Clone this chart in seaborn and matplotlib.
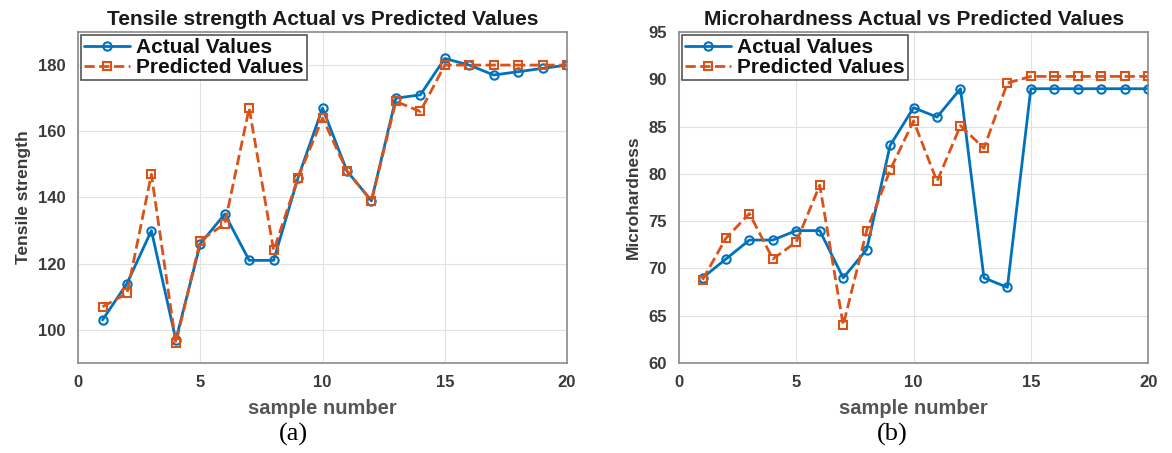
import numpy as np
import pandas as pd
import matplotlib
matplotlib.use("Agg")
import matplotlib.pyplot as plt
import seaborn as sns

# данные
samples = list(range(1, 21))
tensile_actual = [103, 114, 130, 97, 126, 135, 121, 121, 146, 167,
                  148, 139, 170, 171, 182, 180, 177, 178, 179, 180]
tensile_pred = [107, 111, 147, 96, 127, 132, 167, 124, 146, 164,
                148, 139, 169, 166, 180, 180, 180, 180, 180, 180]
micro_actual = [69, 71, 73, 73, 74, 74, 69, 72, 83, 87,
                86, 89, 69, 68, 89, 89, 89, 89, 89, 89]
micro_pred = [68.8, 73.2, 75.8, 71, 72.8, 78.8, 64, 74, 80.4, 85.6,
              79.2, 85.1, 82.7, 89.6, 90.3, 90.3, 90.3, 90.3, 90.3, 90.3]

sns.set_style("whitegrid")
plt.rcParams['font.family'] = ['Liberation Sans', 'DejaVu Sans']
plt.rcParams['font.weight'] = 'bold'

blue = "#0072BD"
orange = "#D95319"
grey_txt = "#3a3a3a"

fig = plt.figure(figsize=(11.72, 4.53), dpi=100)
ax1 = fig.add_axes([0.0666, 0.1987, 0.4172, 0.7307])
ax2 = fig.add_axes([0.5794, 0.1987, 0.4002, 0.7307])


def draw(ax, actual, pred, title, ylabel, ylim, yticks, caption, cap_x):
    sns.lineplot(x=samples, y=actual, ax=ax, color=blue, marker="o", linewidth=2,
                 markersize=6, markerfacecolor="none", markeredgecolor=blue,
                 markeredgewidth=1.5, label="Actual Values")
    sns.lineplot(x=samples, y=pred, ax=ax, color=orange, marker="s", linewidth=2,
                 linestyle="--", markersize=5.5, markerfacecolor="none",
                 markeredgecolor=orange, markeredgewidth=1.5, label="Predicted Values")
    ax.set_xlim(0, 20)
    ax.set_ylim(*ylim)
    ax.set_xticks([0, 5, 10, 15, 20])
    ax.set_yticks(yticks)
    ax.set_title(title, fontsize=15, fontweight="bold", color="#1a1a1a", pad=5)
    ax.set_xlabel("sample number", fontsize=14.5, fontweight="bold", color="#555555", labelpad=6)
    ax.set_ylabel(ylabel, fontsize=12.5, fontweight="bold", color=grey_txt, labelpad=5)
    ax.tick_params(axis="both", labelsize=12, colors=grey_txt, length=3, direction="in", pad=9)
    for lab in ax.get_xticklabels() + ax.get_yticklabels():
        lab.set_fontweight("bold")
    ax.grid(True, color="#e2e2e2", linewidth=0.8)
    for sp in ax.spines.values():
        sp.set_color("#8a8a8a")
        sp.set_linewidth(1.2)
    leg = ax.legend(loc="upper left", fontsize=15, frameon=True, fancybox=False,
                    handlelength=2.2, borderpad=0.15, labelspacing=0.05,
                    handletextpad=0.3, borderaxespad=0.15, framealpha=1)
    leg.get_frame().set_edgecolor("#555555")
    leg.get_frame().set_linewidth(1.2)
    for t in leg.get_texts():
        t.set_fontweight("bold")
        t.set_color("#111111")
    ax.text(cap_x, -0.215, caption, transform=ax.transAxes, ha="center", va="center",
            fontsize=19, family="Liberation Serif", fontweight="normal", color="black")


draw(ax1, tensile_actual, tensile_pred, "Tensile strength Actual vs Predicted Values",
     "Tensile strength", (90, 190), [100, 120, 140, 160, 180], "(a)", 0.44)
draw(ax2, micro_actual, micro_pred, "Microhardness Actual vs Predicted Values",
     "Microhardness", (60, 95), [60, 65, 70, 75, 80, 85, 90, 95], "(b)", 0.455)

fig.savefig("out.png", dpi=100)
